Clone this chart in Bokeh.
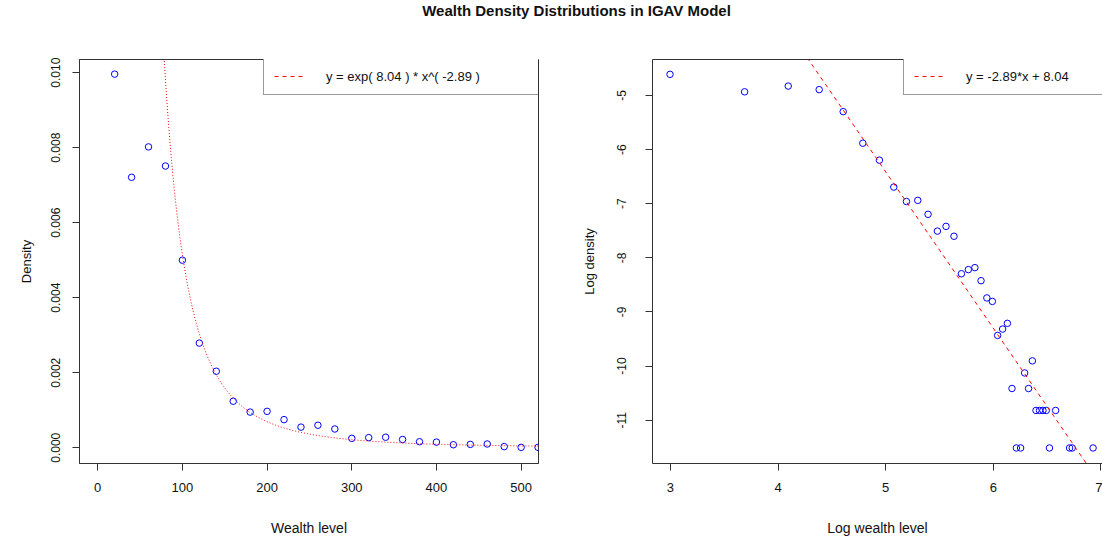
import numpy as np
from bokeh.plotting import figure
from bokeh.models import (Range1d, FixedTicker, Legend, LegendItem, LinearAxis,
                          Label, ColumnDataSource)
from bokeh.layouts import column, row
from bokeh.embed import file_html
from bokeh.resources import INLINE

# ---------------- data ----------------
wealth_level = [20, 40, 60, 80, 100, 120, 140, 160, 180, 200,
                220, 240, 260, 280, 300, 320, 340, 360, 380, 400,
                420, 440, 460, 480, 500, 520, 540, 560, 580, 600,
                620, 640, 660, 680, 700, 720, 740, 760, 780, 800,
                820, 840, 860, 880, 900, 920, 940, 960, 980, 1000, 1020]
density = [0.00996, 0.00721, 0.00802, 0.00751, 0.00500, 0.00279, 0.00204, 0.00124, 0.00095, 0.00097,
           0.00075, 0.00055, 0.00060, 0.00050, 0.00025, 0.00027, 0.00028, 0.00022, 0.00016, 0.00015,
           0.00008, 0.00009, 0.00010, 0.00003, 0.00001, 0.00001, 0.00004, 0.00003, 0.00005, 0.00002,
           0.00002, 0.00002, 0.00002, 0.00001, 0.00000, 0.00002, 0.00000, 0.00000, 0.00000, 0.00000,
           0.00001, 0.00001, 0.00000, 0.00000, 0.00000, 0.00000, 0.00000, 0.00000, 0.00000, 0.00000, 0.00001]
fit_intercept = 8.04
fit_slope = -2.89

left_x_ticks = [0, 100, 200, 300, 400, 500]
left_y_ticks = [0.000, 0.002, 0.004, 0.006, 0.008, 0.010]
right_x_ticks = [3, 4, 5, 6, 7]
right_y_ticks = [-5, -6, -7, -8, -9, -10, -11]

title_text = "Wealth Density Distributions in IGAV Model"

FONT = "Liberation Sans"
TXT = "#111111"
LN = "#333333"

# ---------------- helpers ----------------
def style_axis(ax, ticks, overrides, font_size, orient="horizontal",
               standoff=12, label_standoff=18, label_size="14px"):
    ax.ticker = FixedTicker(ticks=ticks)
    ax.major_label_overrides = overrides
    ax.major_tick_out = 7
    ax.major_tick_in = 0
    ax.minor_tick_line_color = None
    ax.axis_line_color = LN
    ax.major_tick_line_color = LN
    ax.major_label_text_font = FONT
    ax.major_label_text_font_size = font_size
    ax.major_label_text_color = TXT
    ax.major_label_orientation = orient
    ax.major_label_standoff = standoff
    ax.axis_label_text_font = FONT
    ax.axis_label_text_font_size = label_size
    ax.axis_label_text_font_style = "normal"
    ax.axis_label_text_color = TXT
    ax.axis_label_standoff = label_standoff


# ---------------- title ----------------
TH = 20
tf = figure(width=1102, height=TH, x_range=Range1d(0, 1102), y_range=Range1d(0, TH),
            x_axis_type=None, y_axis_type=None, toolbar_location=None,
            output_backend="svg", min_border=0)
tf.grid.visible = False
tf.outline_line_color = None
tf.add_layout(Label(x=576, y=TH - 10, text=title_text, text_align="center",
                    text_baseline="middle", text_font=FONT, text_font_size="15px",
                    text_font_style="bold", text_color=TXT))

# ---------------- left plot ----------------
p1 = figure(width=575, height=544 - TH, x_range=Range1d(-21.5, 520.5),
            y_range=Range1d(-0.00042, 0.01035),
            min_border_left=79, min_border_right=37, min_border_top=59 - TH,
            min_border_bottom=81, toolbar_location=None, output_backend="svg",
            x_axis_label="Wealth level", y_axis_label="Density")
p1.grid.visible = False
p1.outline_line_color = LN
style_axis(p1.xaxis[0], left_x_ticks, {v: str(v) for v in left_x_ticks}, "13px",
           standoff=12, label_standoff=25)
style_axis(p1.yaxis[0], left_y_ticks, {v: f"{v:.3f}" for v in left_y_ticks}, "12px",
           orient="vertical", standoff=12, label_standoff=15, label_size="13px")

src1 = ColumnDataSource(dict(x=wealth_level, y=density))
p1.scatter("x", "y", source=src1, marker="circle", size=6.5, fill_color=None,
           line_color="blue", line_width=1)
cx = np.linspace(60, 530, 600)
cy = np.exp(fit_intercept) * cx ** fit_slope
p1.line(cx, cy, line_color="red", line_width=1, line_dash="1 2")
# legend proxy (dashed sample, no visible data)
leg1_r = p1.line(x=[np.nan], y=[np.nan], line_color="red", line_width=1, line_dash="4 4")
leg1 = Legend(items=[LegendItem(label=f"y = exp( {fit_intercept} ) * x^( {fit_slope} )",
                                renderers=[leg1_r])],
              location=(184, 368), padding=10, margin=0, spacing=0,
              glyph_width=30, glyph_height=16, label_height=16, label_standoff=22,
              label_width=209, border_line_color=LN, border_line_width=1,
              label_text_font=FONT, label_text_font_size="13px", label_text_color=TXT,
              background_fill_color="white", background_fill_alpha=1)
p1.add_layout(leg1, "center")

# ---------------- right plot ----------------
lx = [np.log(w) for w, d in zip(wealth_level, density) if d > 0]
ly = [np.log(d) for w, d in zip(wealth_level, density) if d > 0]

p2 = figure(width=527, height=544 - TH, x_range=Range1d(2.833, 7.015),
            y_range=Range1d(-11.80, -4.335),
            min_border_left=77, min_border_right=0, min_border_top=59 - TH,
            min_border_bottom=81, toolbar_location=None, output_backend="svg",
            x_axis_label="Log wealth level", y_axis_label="Log density")
p2.grid.visible = False
p2.outline_line_color = None
style_axis(p2.xaxis[0], right_x_ticks, {v: str(v) for v in right_x_ticks}, "13px",
           standoff=12, label_standoff=25)
style_axis(p2.yaxis[0], right_y_ticks, {v: str(v) for v in right_y_ticks}, "12px",
           orient="vertical", standoff=19, label_standoff=18, label_size="13px")
top_ax = LinearAxis(ticker=FixedTicker(ticks=[]), axis_line_color=LN,
                    major_tick_line_color=None, minor_tick_line_color=None,
                    major_label_text_font_size="0px", major_label_standoff=0)
p2.add_layout(top_ax, "above")

src2 = ColumnDataSource(dict(x=lx, y=ly))
p2.scatter("x", "y", source=src2, marker="circle", size=6.5, fill_color=None,
           line_color="blue", line_width=1)
rx = np.array([2.5, 7.5])
ry = fit_slope * rx + fit_intercept
leg2_r = p2.line(rx, ry, line_color="red", line_width=1, line_dash="4 4")
leg2 = Legend(items=[LegendItem(label=f"y = {fit_slope}*x + {fit_intercept}",
                                renderers=[leg2_r])],
              location=(251, 368), padding=10, margin=0, spacing=0,
              glyph_width=30, glyph_height=16, label_height=16, label_standoff=22,
              label_width=300, border_line_color=LN, border_line_width=1,
              label_text_font=FONT, label_text_font_size="13px", label_text_color=TXT,
              background_fill_color="white", background_fill_alpha=1)
p2.add_layout(leg2, "center")

layout = column(tf, row(p1, p2, spacing=0), spacing=0)
open("out.html", "w").write(file_html(layout, INLINE))
